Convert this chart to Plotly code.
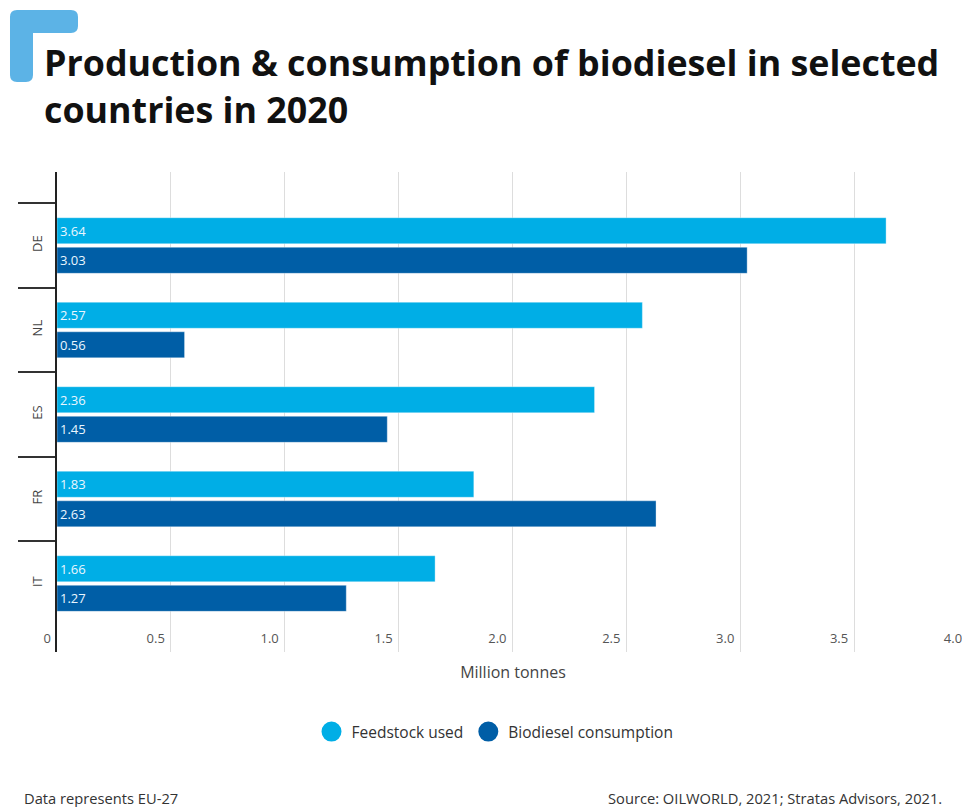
import plotly.graph_objects as go

countries = ["DE", "NL", "ES", "FR", "IT"]
feedstock = [3.64, 2.57, 2.36, 1.83, 1.66]
consumption = [3.03, 0.56, 1.45, 2.63, 1.27]
series_names = ["Feedstock used", "Biodiesel consumption"]
x_ticks = [0, 0.5, 1.0, 1.5, 2.0, 2.5, 3.0, 3.5, 4.0]
x_tick_text = ["0", "0.5", "1.0", "1.5", "2.0", "2.5", "3.0", "3.5", "4.0"]

C_LIGHT = "#00aee6"
C_DARK = "#005ea6"
FONT = "Open Sans"

OFF = 8  # page body margin
W, H = 970 - OFF, 807 - OFF
L, R, T = 57 - OFF, 1, 172 - OFF
B = H - (652 - OFF)
PW, PH = W - L - R, H - T - B


def px(x):
    return (x - OFF - L) / PW


def py(y):
    return (H - B - (y - OFF)) / PH


fig = go.Figure()
for name, vals, col in [(series_names[0], feedstock, C_LIGHT), (series_names[1], consumption, C_DARK)]:
    fig.add_trace(go.Bar(
        x=vals, y=countries, orientation="h", name=name,
        marker=dict(color=col, line=dict(color="rgba(255,255,255,0.35)", width=1)),
        texttemplate="%{x:.2f}", textposition="inside", insidetextanchor="start",
        textfont=dict(family=FONT, size=13, color="#eaf6ff"),
        constraintext="none", showlegend=False, hoverinfo="x+y",
    ))
    fig.add_trace(go.Scatter(
        x=[None], y=[None], mode="markers", name=name,
        marker=dict(symbol="circle", size=16, color=col, line=dict(color=col, width=4)),
        showlegend=True,
    ))

# invisible helper trace so the label axis knows the categories
fig.add_trace(go.Scatter(
    x=feedstock, y=countries, yaxis="y2", mode="markers",
    marker=dict(opacity=0), showlegend=False, hoverinfo="skip",
))

# rounded L-shaped corner mark
r = 7
pts = [("M", 10 + r, 10), ("L", 78 - r, 10), ("Q", 78, 10, 78, 10 + r), ("L", 78, 33 - r),
       ("Q", 78, 33, 78 - r, 33), ("L", 33, 33), ("L", 33, 82 - r), ("Q", 33, 82, 33 - r, 82),
       ("L", 10 + r, 82), ("Q", 10, 82, 10, 82 - r), ("L", 10, 10 + r), ("Q", 10, 10, 10 + r, 10)]
path = ""
for p in pts:
    if p[0] == "Q":
        path += f"Q{px(p[1]):.5f},{py(p[2]):.5f} {px(p[3]):.5f},{py(p[4]):.5f} "
    else:
        path += f"{p[0]}{px(p[1]):.5f},{py(p[2]):.5f} "
path += "Z"

y_range = [4.81, -0.87]

fig.update_layout(
    width=W, height=H,
    margin=dict(l=L, r=R, t=T, b=B, pad=0),
    paper_bgcolor="white", plot_bgcolor="white",
    font=dict(family=FONT, color="#333333"),
    barmode="group", bargap=0.30, bargroupgap=0.12,
    xaxis=dict(
        range=[0, 4.004], tickvals=x_ticks, ticktext=x_tick_text,
        showgrid=True, gridcolor="#dddddd", gridwidth=1.2,
        zeroline=False, showline=False, ticks="",
        ticklabelposition="inside left", ticklabelshift=-6, ticklabeloverflow="allow",
        tickfont=dict(family=FONT, size=13, color="#555555"),
        title=dict(text="Million tonnes", font=dict(family=FONT, size=16, color="#444444"), standoff=20),
    ),
    yaxis=dict(
        type="category", categoryarray=countries, categoryorder="array",
        range=y_range, tickson="boundaries",
        ticks="outside", ticklen=37, tickwidth=1.5, tickcolor="#333333",
        showline=True, linecolor="#222222", linewidth=2,
        showgrid=False, zeroline=False, showticklabels=False,
    ),
    yaxis2=dict(
        type="category", categoryarray=countries, categoryorder="array",
        overlaying="y", side="left", range=y_range,
        ticks="outside", ticklen=9, tickcolor="rgba(0,0,0,0)",
        showline=False, showgrid=False, zeroline=False,
        tickangle=-90,
        tickfont=dict(family=FONT, size=13, color="#444444"),
    ),
    legend=dict(
        orientation="h", x=px(495), xanchor="center", y=py(732), yanchor="middle",
        font=dict(family=FONT, size=15.5, color="#333333"), itemwidth=30,
        traceorder="normal",
    ),
    shapes=[dict(type="path", xref="paper", yref="paper", path=path,
                 fillcolor="#5cb3e6", line=dict(width=0), layer="above")],
    annotations=[
        dict(text="<b>Production &amp; consumption of biodiesel in selected<br>countries in 2020</b>",
             xref="paper", yref="paper", x=px(42), y=py(36), xanchor="left", yanchor="top",
             align="left", showarrow=False,
             font=dict(family=FONT, size=35.8, color="#111111")),
        dict(text="Data represents EU-27", xref="paper", yref="paper", x=px(22), y=py(798),
             xanchor="left", yanchor="middle", showarrow=False,
             font=dict(family=FONT, size=14.7, color="#333333")),
        dict(text="Source: OILWORLD, 2021; Stratas Advisors, 2021.", xref="paper", yref="paper",
             x=px(944), y=py(798), xanchor="right", yanchor="middle", showarrow=False,
             font=dict(family=FONT, size=14.7, color="#333333")),
    ],
)

fig.write_html("out.html")
